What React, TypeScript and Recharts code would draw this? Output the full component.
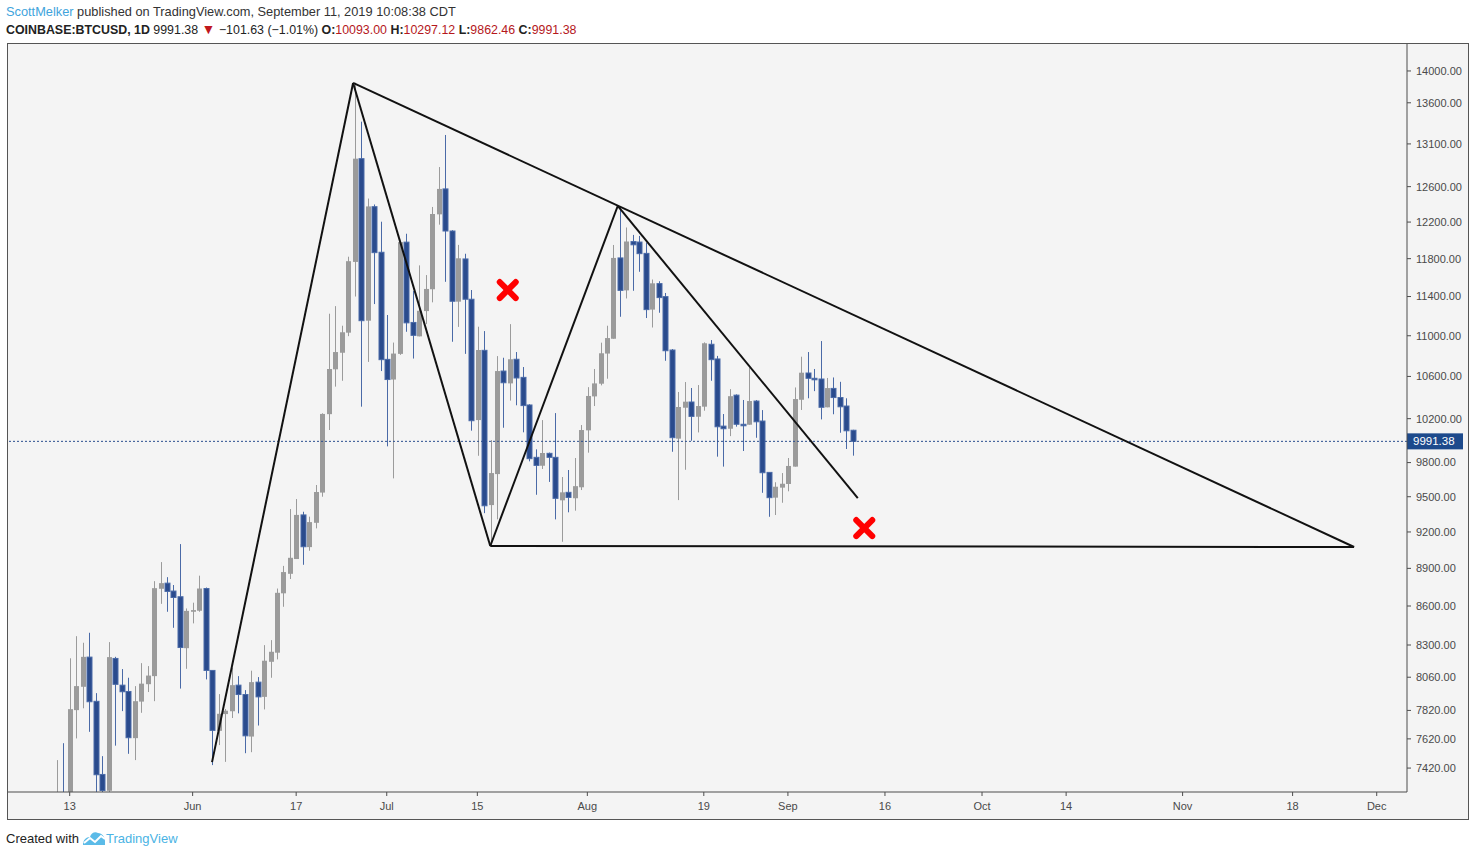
import React from "react";
import { ComposedChart, Bar, XAxis, YAxis, ReferenceLine, ReferenceDot } from "recharts";

// Daily BTCUSD candles, one per day starting 2019-05-11 (day 0 = May 13)
const FIRST_DAY = -2;

const opens = [
  6350, 7210, 6970, 7822, 7990, 8209, 7885, 7377, 7268, 8199,
  8002, 7956, 7625, 7883, 8009, 8068, 8736, 8781, 8718, 8673,
  8276, 8555, 8563, 8738, 8110, 7676, 7794, 7814, 8002, 7934,
  7636, 8024, 7917, 8174, 8242, 8700, 8856, 8976, 9344, 9074,
  9277, 9536, 10242, 10669, 10831, 11031, 11765, 12925, 11152, 12372,
  11869, 10766, 10570, 10820, 11979, 11134, 10994, 11250, 11476, 12286,
  12574, 12101, 11347, 11797, 11372, 10187, 10855, 9428, 9698, 10652,
  10533, 10767, 10591, 10328, 9847, 9772, 9883, 9847, 9469, 9538,
  9487, 9582, 10092, 10409, 10530, 10823, 10970, 11808, 11464, 11985,
  11980, 11857, 11265, 11535, 11399, 10858, 10016, 10302, 10356, 10218,
  10312, 10915, 10770, 10131, 10107, 10421, 10148, 10144, 10365, 10178,
  9713, 9492, 9579, 9611, 9764, 10377, 10633, 10582, 10575, 10306,
  10485, 10398, 10318, 10093,
];

const highs = [
  7474, 7590, 8200, 8367, 8317, 8393, 7944, 7501, 8322, 8211,
  8120, 8056, 7995, 8164, 8142, 8797, 8951, 8829, 8766, 9099,
  8581, 8626, 8841, 8746, 8110, 7937, 7830, 8129, 8068, 7966,
  8108, 8061, 8299, 8337, 8738, 8920, 9394, 9480, 9371, 9329,
  9602, 10250, 11223, 11301, 11101, 11821, 13850, 13368, 12464, 12397,
  12204, 11210, 10932, 11990, 12071, 11457, 11728, 11625, 12369, 12827,
  13207, 12110, 11949, 11853, 11468, 11091, 11047, 10003, 10798, 10782,
  11117, 10838, 10691, 10335, 9919, 10187, 9890, 10252, 9672, 9734,
  9841, 10141, 10497, 10672, 10931, 11101, 11948, 12372, 12140, 12058,
  12047, 11974, 11578, 11560, 11437, 10868, 10451, 10546, 10489, 10517,
  10934, 10957, 10800, 10243, 10478, 10428, 10375, 10684, 10375, 10280,
  9713, 9626, 9707, 9841, 10494, 10792, 10838, 10672, 10947, 10585,
  10590, 10548, 10391, 10097,
];

const lows = [
  6150, 6800, 6870, 7623, 7835, 7669, 6600, 7100, 7220, 7573,
  7815, 7517, 7474, 7803, 7952, 7886, 8617, 8555, 8431, 7977,
  8122, 8465, 8555, 8044, 7440, 7577, 7462, 7766, 7799, 7521,
  7528, 7713, 7827, 8056, 8192, 8594, 8814, 8976, 8929, 9044,
  9230, 9500, 10095, 10502, 10558, 10996, 11400, 10312, 10741, 11322,
  10652, 9946, 9660, 10810, 11040, 10774, 10994, 11118, 11340, 12171,
  11554, 10940, 11089, 10820, 10089, 9861, 9359, 9091, 9306, 10116,
  10369, 10325, 10074, 9811, 9517, 9743, 9629, 9306, 9118, 9366,
  9380, 9558, 9889, 10318, 10514, 10578, 10970, 11192, 11380, 11460,
  11660, 11179, 11083, 11233, 10752, 9897, 9471, 9736, 9997, 10073,
  10274, 10558, 9853, 9764, 10039, 10126, 9904, 10144, 10024, 9534,
  9328, 9343, 9448, 9547, 9764, 10281, 10391, 10459, 10193, 10306,
  10241, 10070, 9922, 9862,
];

const closes = [
  7210, 6970, 7829, 7995, 8211, 7882, 7375, 7270, 8209, 8008,
  7954, 7628, 7886, 8013, 8072, 8741, 8781, 8715, 8667, 8281,
  8562, 8568, 8738, 8110, 7679, 7796, 7818, 8002, 7934, 7641,
  8024, 7917, 8182, 8249, 8704, 8870, 8986, 9344, 9077, 9283,
  9541, 10244, 10672, 10838, 11035, 11773, 12925, 11152, 12375, 11865,
  10763, 10570, 10823, 11979, 11130, 11004, 11253, 11479, 12290, 12574,
  12101, 11351, 11804, 11372, 10181, 10858, 9422, 9707, 10652, 10539,
  10767, 10585, 10322, 9835, 9775, 9886, 9847, 9486, 9538, 9494,
  9592, 10095, 10413, 10533, 10826, 10977, 11808, 11464, 11986, 11950,
  11854, 11265, 11538, 11389, 10851, 10025, 10309, 10359, 10221, 10318,
  10925, 10763, 10125, 10107, 10411, 10148, 10135, 10365, 10171, 9710,
  9492, 9587, 9613, 9770, 10384, 10636, 10582, 10568, 10306, 10488,
  10398, 10311, 10088, 9991.38,
];

const lastPrice = 9991.38;

const xTicks = [0, 19, 35, 49, 63, 80, 98, 111, 126, 141, 154, 172, 189, 202];
const xTickLabels = ["13", "Jun", "17", "Jul", "15", "Aug", "19", "Sep", "16", "Oct", "14", "Nov", "18", "Dec"];

const priceTicks = [
  7420, 7620, 7820, 8060, 8300, 8600, 8900, 9200, 9500, 9800,
  10200, 10600, 11000, 11400, 11800, 12200, 12600, 13100, 13600, 14000,
];

// hand-drawn pattern: pivots as [day, price]
const pivotA = [22.0, 7460];
const pivotB = [43.8, 13848];
const pivotC = [65.0, 9083];
const pivotD = [84.7, 12380];
const pivotE = [121.8, 9488];
const pivotF = [198.5, 9075];

// red "x" marks as [day, price]
const crossMarks = [
  [67.7, 11468],
  [122.8, 9233],
];

const data = opens.map((o, i) => ({
  day: FIRST_DAY + i,
  open: o,
  high: highs[i],
  low: lows[i],
  close: closes[i],
  range: [lows[i], highs[i]],
}));

const UP = "#9b9b9b";
const DOWN_FILL = "#2a4b8d";
const DOWN_LINE = "#4a6aa7";
const AXIS_TEXT = "#4a4a4a";
const FONT = "'Liberation Sans', Arial, sans-serif";

function Candle(props: any) {
  const { x, y, width, height, payload } = props;
  if (!payload || height == null || isNaN(y)) return <g />;
  const { open, close, high, low } = payload;
  const cx = Math.round(x + width / 2) + 0.5;
  const span = Math.log(high) - Math.log(low);
  // log scale: place open/close between the high and low pixels
  const toY = (v: number) => (span > 0 ? y + ((Math.log(high) - Math.log(v)) / span) * height : y);
  const up = close >= open;
  const top = toY(Math.max(open, close));
  const bottom = toY(Math.min(open, close));
  const bodyH = Math.max(1.5, bottom - top);
  const bw = 5;
  return (
    <g>
      <line x1={cx} x2={cx} y1={y} y2={y + height} stroke={up ? UP : DOWN_LINE} strokeWidth={1} />
      <rect
        x={cx - bw / 2}
        y={top}
        width={bw}
        height={bodyH}
        fill={up ? UP : DOWN_FILL}
        stroke={up ? UP : DOWN_LINE}
        strokeWidth={up ? 0 : 1}
      />
    </g>
  );
}

function Cross(props: any) {
  const { cx, cy } = props;
  if (cx == null || cy == null) return <g />;
  const a = 8;
  return (
    <g stroke="#ff0000" strokeWidth={6} strokeLinecap="round">
      <line x1={cx - a} y1={cy - a} x2={cx + a} y2={cy + a} />
      <line x1={cx - a} y1={cy + a} x2={cx + a} y2={cy - a} />
    </g>
  );
}

function PriceTag(props: any) {
  const vb = props.viewBox;
  if (!vb) return <g />;
  const x = vb.x + vb.width;
  return (
    <g>
      <rect x={x} y={vb.y - 8} width={56} height={16} fill="#1d4a8c" />
      <text x={x + 6} y={vb.y + 4} fontSize={11.5} fill="#ffffff" fontFamily={FONT}>
        {lastPrice.toFixed(2)}
      </text>
    </g>
  );
}

function Logo() {
  return (
    <svg width={24} height={16} viewBox="0 0 24 16" style={{ verticalAlign: "-3px", marginLeft: 3 }}>
      <path d="M1 15 C1 10 4 7 8 7 C9 3 13 1 16 3 C20 3 23 7 23 11 L23 15 Z" fill="#5bbbe8" />
      <path d="M2 13 L8 8 L13 12 L19 6 L23 9" stroke="#ffffff" strokeWidth={2} fill="none" />
    </svg>
  );
}

const seg = (p: number[], q: number[]) => [
  { x: p[0], y: p[1] },
  { x: q[0], y: q[1] },
];

export default function App() {
  return (
    <div style={{ position: "absolute", left: 0, top: 0, width: 1476, height: 856, background: "#ffffff", fontFamily: FONT }}>
      <div style={{ position: "absolute", left: 6, top: 4, fontSize: 12.8, lineHeight: "16px", color: "#333", whiteSpace: "nowrap" }}>
        <span style={{ color: "#3fa4dc" }}>ScottMelker</span> published on TradingView.com, September 11, 2019 10:08:38 CDT
      </div>
      <div style={{ position: "absolute", left: 6, top: 21, fontSize: 12.4, lineHeight: "16px", color: "#222", whiteSpace: "nowrap" }}>
        <b>COINBASE:BTCUSD, 1D</b> 9991.38 <span style={{ color: "#c0171d", fontSize: 14 }}>▼</span> −101.63 (−1.01%){" "}
        <b>O:</b><span style={{ color: "#b5171c" }}>10093.00</span> <b>H:</b>
        <span style={{ color: "#b5171c" }}>10297.12</span> <b>L:</b>
        <span style={{ color: "#b5171c" }}>9862.46</span> <b>C:</b>
        <span style={{ color: "#b5171c" }}>9991.38</span>
      </div>

      <div style={{ position: "absolute", left: 7, top: 43, width: 1462, height: 777, background: "#f4f4f4" }}>
        <ComposedChart width={1462} height={777} data={data} margin={{ top: 0, right: 0, bottom: 0, left: 0 }}>
          <XAxis
            type="number"
            dataKey="day"
            domain={[-9.69, 206.68]}
            allowDataOverflow
            ticks={xTicks}
            interval={0}
            tickFormatter={(v: number) => xTickLabels[xTicks.indexOf(v)] ?? ""}
            height={28}
            tickSize={4}
            tickMargin={6}
            stroke="#4d4d4d"
            tick={{ fontSize: 11, fill: AXIS_TEXT, fontFamily: FONT }}
          />
          <YAxis
            orientation="right"
            scale="log"
            domain={[7260, 14361]}
            allowDataOverflow
            ticks={priceTicks}
            interval={0}
            tickFormatter={(v: number) => v.toFixed(2)}
            width={62}
            tickSize={4}
            tickMargin={5}
            stroke="#4d4d4d"
            tick={{ fontSize: 11, fill: AXIS_TEXT, fontFamily: FONT }}
          />
          <Bar dataKey="range" barSize={5} shape={<Candle />} isAnimationActive={false} />
          <ReferenceLine
            y={lastPrice}
            stroke="#2b4f8e"
            strokeDasharray="2 2"
            strokeWidth={1}
            label={<PriceTag />}
          />
          <ReferenceLine segment={seg(pivotA, pivotB)} stroke="#111" strokeWidth={2} />
          <ReferenceLine segment={seg(pivotB, pivotC)} stroke="#111" strokeWidth={2} />
          <ReferenceLine segment={seg(pivotC, pivotD)} stroke="#111" strokeWidth={2} />
          <ReferenceLine segment={seg(pivotD, pivotE)} stroke="#111" strokeWidth={2} />
          <ReferenceLine segment={seg(pivotB, pivotF)} stroke="#111" strokeWidth={2} />
          <ReferenceLine segment={seg(pivotC, pivotF)} stroke="#111" strokeWidth={2} />
          {crossMarks.map((m, i) => (
            <ReferenceDot key={i} x={m[0]} y={m[1]} r={9} shape={<Cross />} />
          ))}
        </ComposedChart>
        <div style={{ position: "absolute", left: 0, top: 0, width: 1462, height: 777, boxSizing: "border-box", border: "1px solid #555", pointerEvents: "none" }} />
      </div>

      <div style={{ position: "absolute", left: 6, top: 830, fontSize: 13, lineHeight: "18px", color: "#222", whiteSpace: "nowrap" }}>
        Created with
        <Logo />
        <span style={{ color: "#4ab3e4" }}>TradingView</span>
      </div>
    </div>
  );
}
